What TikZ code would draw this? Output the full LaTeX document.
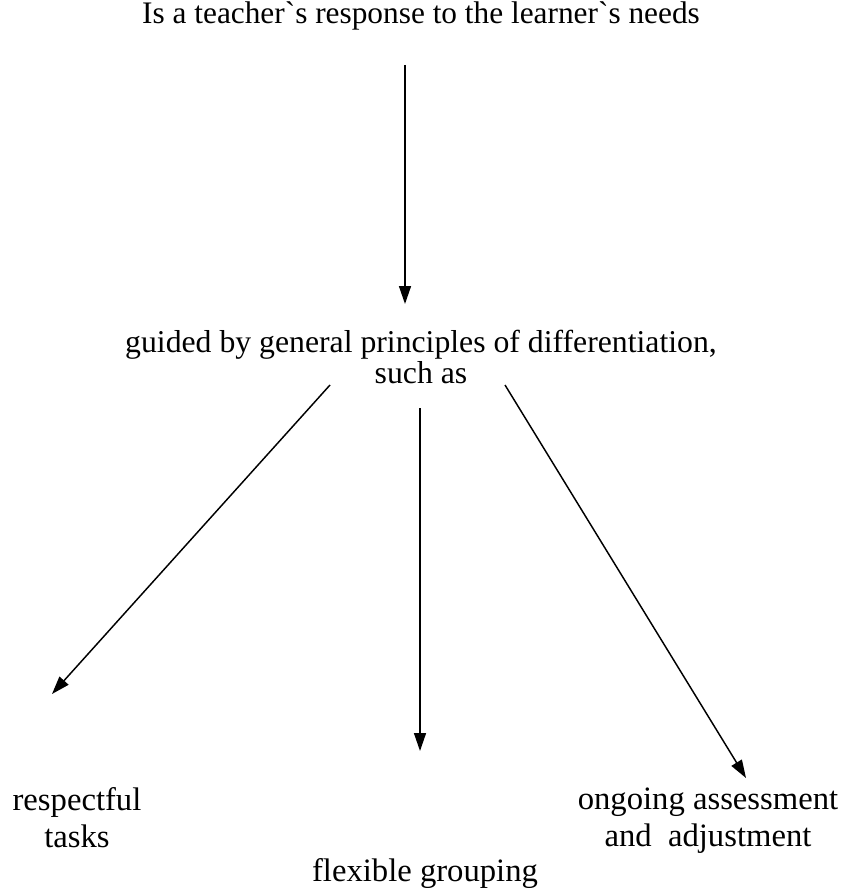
\documentclass[tikz,border=0pt]{standalone}
\usepackage{fontspec}
\setmainfont{Liberation Serif}[Ligatures=ResetAll]
\usetikzlibrary{arrows.meta}

\newcommand{\grv}{\symbol{"02CB}}

\tikzset{
  lbl/.style={inner sep=0pt, align=center, font=\fontsize{23.5}{20.3}\selectfont},
  lbltwo/.style={lbl, font=\fontsize{24.5}{27.75}\selectfont},
  arr/.style={-{Triangle[length=13.5pt,width=9pt]}, line width=1.1pt}
}

\begin{document}
\begin{tikzpicture}[x=0.75pt, y=-0.75pt]
  \useasboundingbox (0,0) rectangle (840,888);

  \node [lbl] (top) at (421,16) {Is a teacher\grv s response to the learner\grv s needs};
  \node [lbl, font=\fontsize{23.8}{20.3}\selectfont] (guided) at (421,357) {guided by general principles of differentiation,\\ such as};
  \node [lbltwo] (resp) at (77,818) {respectful\\ tasks};
  \node [lbltwo] (flex) at (425,874) {flexible grouping};
  \node [lbltwo] (ongo) at (708,821) {ongoing assessment\\ and~ adjustment};

  % arrow ends
  \coordinate (a1) at (405,65);
  \coordinate (a2) at (405,304);
  \coordinate (b1) at (330,385);
  \coordinate (b2) at (52,694);
  \coordinate (c1) at (420,408);
  \coordinate (c2) at (420,751);
  \coordinate (d1) at (505,385);
  \coordinate (d2) at (746,778);

  \draw [arr] (a1) -- (a2);
  \draw [arr] (b1) -- (b2);
  \draw [arr] (c1) -- (c2);
  \draw [arr] (d1) -- (d2);
\end{tikzpicture}
\end{document}
